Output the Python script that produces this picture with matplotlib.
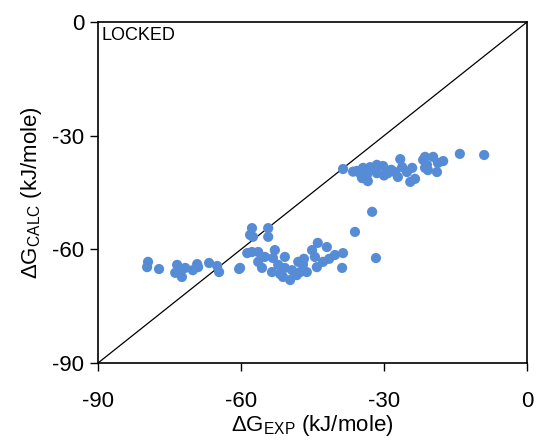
import numpy as np
import matplotlib.pyplot as plt

plt.rcParams['font.family'] = ['Liberation Sans', 'DejaVu Sans']
plt.rcParams['mathtext.fontset'] = 'custom'
plt.rcParams['mathtext.rm'] = 'Liberation Sans'
plt.rcParams['mathtext.it'] = 'Liberation Sans:italic'
plt.rcParams['axes.unicode_minus'] = False

dg_exp = [-79.5, -79.7, -77.2, -73.4, -73.8, -72.4, -72.8, -71.7, -70.1, -69.2,
          -69.0, -66.7, -65.0, -64.6, -60.4,
          -57.7, -58.1, -57.5, -54.3, -54.3, -58.7, -57.7, -56.4, -60.2, -56.4,
          -55.6, -52.9, -53.3, -50.8, -52.2, -50.8, -49.3, -48.0, -47.6, -53.5,
          -49.7, -48.3, -46.2, -44.1, -45.1, -43.9, -42.0, -40.3, -38.6, -38.8,
          -36.1, -42.8, -51.2, -41.5, -44.5, -47.0, -55.0, -51.8, -46.8,
          -32.5, -31.7,
          -38.6, -35.7, -34.4, -32.9, -31.5, -30.2, -33.6, -34.6, -33.4, -31.5,
          -29.2, -27.7, -26.6, -26.2, -27.1, -25.2, -24.1, -24.5, -23.5, -21.8,
          -21.4, -21.4, -19.7, -21.0, -20.8, -18.9, -18.7, -17.6, -14.1, -9.0,
          -35.0, -30.0, -28.5, -36.5, -32.0]
dg_calc = [-63.3, -64.7, -65.2, -64.1, -66.2, -67.3, -66.0, -64.9, -65.5, -63.9,
           -64.7, -63.6, -64.4, -66.0, -65.2,
           -54.4, -56.2, -56.7, -54.4, -56.7, -61.0, -60.7, -60.7, -64.9, -63.3,
           -64.9, -60.2, -62.3, -62.0, -64.1, -64.9, -65.5, -63.3, -66.0, -66.0,
           -68.1, -66.8, -66.0, -64.7, -60.2, -58.3, -59.4, -61.5, -61.0, -64.9,
           -55.4, -63.3, -67.3, -62.5, -62.0, -64.0, -62.0, -66.5, -62.5,
           -50.1, -62.3,
           -38.8, -39.3, -38.5, -38.3, -37.7, -38.0, -40.4, -41.2, -42.0, -39.9,
           -39.9, -39.6, -36.2, -38.3, -40.9, -39.6, -38.5, -42.2, -41.4, -36.4,
           -38.5, -35.6, -35.6, -37.7, -39.1, -39.6, -37.2, -36.7, -34.8, -35.1,
           -40.0, -40.5, -39.0, -39.5, -39.0]

ticks = [-90, -60, -30, 0]

fig = plt.figure(figsize=(5.37, 4.40), dpi=100)
ax = fig.add_axes([0.1825, 0.175, 0.799, 0.775])

ax.plot([-90, 0], [-90, 0], color='black', linewidth=0.9, zorder=1)
ax.scatter(dg_exp, dg_calc, s=54, color='#568cd6', edgecolors='none', zorder=2)

ax.set_xlim(-90, 0)
ax.set_ylim(-90, 0)
ax.set_xticks(ticks)
ax.set_yticks(ticks)
ax.tick_params(direction='out', length=6, width=1, labelsize=16)
ax.tick_params(axis='x', pad=14)
ax.tick_params(axis='y', pad=4)
for s in ax.spines.values():
    s.set_linewidth(1.2)

ax.set_xlabel(r'$\Delta\mathrm{G}_{\mathrm{EXP}}\ \mathrm{(kJ/mole)}$', fontsize=16, labelpad=1)
ax.set_ylabel(r'$\Delta\mathrm{G}_{\mathrm{CALC}}\ \mathrm{(kJ/mole)}$', fontsize=16, labelpad=6)
ax.text(0.008, 0.985, 'LOCKED', transform=ax.transAxes, fontsize=13, va='top', ha='left')

fig.savefig('out.png', dpi=100)
